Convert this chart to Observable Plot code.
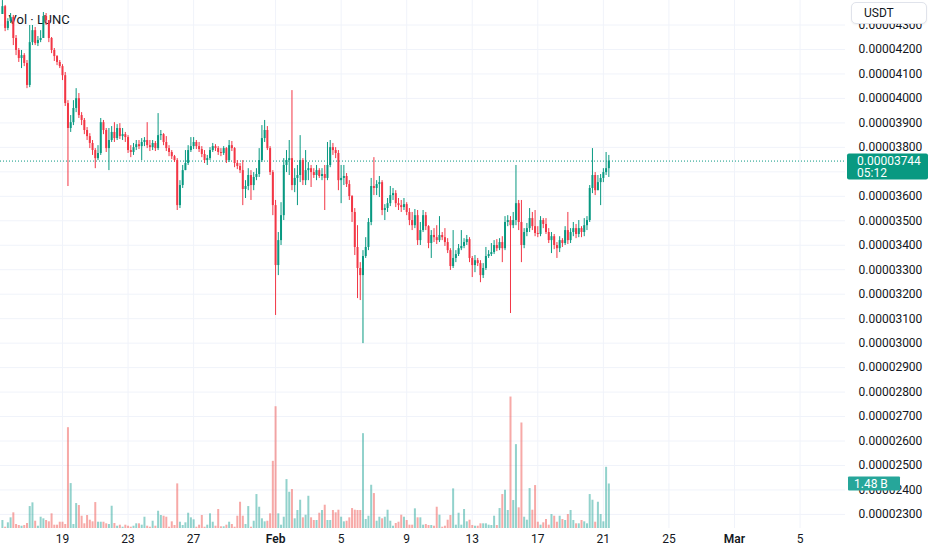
<!DOCTYPE html>
<html><head><meta charset="utf-8">
<script src="https://cdn.jsdelivr.net/npm/d3@7"></script>
<script src="https://cdn.jsdelivr.net/npm/@observablehq/plot@0.6"></script>
<style>
body{margin:0;background:#fff;font-family:Roboto,"Noto Sans",sans-serif;}
#wrap{position:relative;width:932px;height:550px;overflow:hidden;background:#fff;}
#wrap svg{position:absolute;left:0;top:0;}
.btn{position:absolute;left:851px;top:2px;width:76px;height:22px;border:1px solid #e0e3eb;border-radius:5px;background:#fff;font-size:12px;color:#131722;line-height:20px;padding-left:12px;box-sizing:border-box;box-shadow:0 1px 2px rgba(0,0,0,0.06);}
</style></head>
<body><div id="wrap"></div>
<script>
// prices in units of 1e-8 USDT, 4-hour candles starting 2025-01-15 08:00 UTC
const U = 1e-8;
const START = Date.UTC(2025, 0, 15, 8);
const STEP = 4 * 3600 * 1000;
const firstOpen = 4343;
const close = [
4375,4286,4314,4331,4245,4196,4163,4175,4143,4053,
4228,4277,4224,4237,4245,4335,4318,4245,4196,4171,
4147,4130,4093,3979,3877,3901,3959,3999,3930,3910,
3869,3844,3816,3787,3754,3775,3901,3869,3795,3828,
3861,3836,3877,3844,3852,3840,3787,3779,3799,3811,
3803,3820,3828,3807,3799,3816,3795,3848,3852,3820,
3795,3779,3762,3746,3562,3644,3705,3734,3787,3803,
3820,3803,3791,3771,3746,3754,3787,3803,3795,3779,
3775,3795,3746,3807,3795,3734,3722,3705,3628,3640,
3685,3644,3677,3689,3746,3836,3869,3795,3697,3562,
3317,3419,3521,3726,3746,3754,3644,3673,3685,3746,
3664,3705,3713,3697,3685,3705,3681,3689,3673,3726,
3799,3787,3775,3664,3673,3681,3648,3599,3534,3391,
3305,3276,3354,3391,3493,3640,3632,3648,3656,3542,
3550,3570,3603,3611,3570,3562,3554,3566,3534,3501,
3480,3521,3419,3460,3521,3476,3407,3440,3431,3419,
3440,3431,3411,3378,3313,3346,3362,3386,3395,3411,
3423,3346,3317,3337,3325,3276,3305,3354,3362,3370,
3399,3386,3411,3386,3493,3501,3480,3501,3570,3493,
3399,3452,3468,3509,3476,3448,3444,3501,3485,3452,
3419,3435,3399,3386,3419,3407,3460,3419,3452,3468,
3444,3468,3452,3480,3501,3632,3685,3623,3656,3673,
3697,3713,3744];
const high = [
4400,4380,4326,4347,4339,4257,4204,4196,4183,4155,
4298,4298,4290,4253,4277,4351,4347,4318,4249,4204,
4175,4155,4138,4106,3991,3930,3991,4040,4020,3942,
3918,3881,3856,3828,3795,3807,3918,3910,3877,3877,
3885,3901,3893,3897,3877,3861,3848,3807,3816,3828,
3828,3836,3840,3901,3828,3828,3824,3938,3869,3856,
3844,3807,3787,3767,3754,3664,3726,3787,3807,3840,
3840,3828,3820,3803,3787,3767,3799,3816,3811,3803,
3795,3803,3799,3828,3824,3799,3746,3734,3746,3664,
3713,3705,3697,3713,3795,3889,3910,3885,3803,3705,
3583,3452,3574,3754,3787,3828,4032,3713,3726,3848,
3754,3787,3738,3726,3713,3726,3713,3713,3726,3820,
3828,3816,3799,3787,3726,3726,3693,3664,3603,3550,
3480,3329,3378,3431,3509,3673,3758,3664,3681,3664,
3566,3591,3640,3632,3623,3591,3583,3591,3574,3550,
3534,3546,3542,3493,3542,3534,3480,3460,3468,3480,
3517,3452,3468,3427,3386,3460,3378,3403,3460,3427,
3440,3431,3354,3358,3346,3337,3325,3391,3378,3407,
3419,3423,3427,3435,3517,3521,3517,3534,3726,3583,
3583,3468,3489,3550,3534,3542,3476,3517,3509,3509,
3468,3452,3444,3411,3435,3427,3476,3534,3468,3493,
3485,3501,3476,3509,3517,3644,3795,3697,3685,3689,
3713,3779,3767];
const low = [
4343,4273,4277,4306,4216,4175,4147,4122,4130,4040,
4044,4216,4216,4212,4228,4245,4298,4228,4183,4151,
4134,4122,4073,3967,3640,3861,3889,3942,3918,3889,
3852,3828,3795,3767,3713,3746,3767,3852,3779,3705,
3820,3820,3828,3832,3828,3820,3775,3758,3767,3787,
3791,3746,3803,3795,3783,3787,3783,3787,3828,3807,
3783,3762,3750,3738,3542,3550,3632,3705,3726,3779,
3791,3791,3779,3758,3734,3726,3746,3779,3783,3767,
3762,3767,3734,3738,3783,3717,3709,3693,3562,3591,
3623,3583,3623,3664,3677,3738,3820,3787,3685,3521,
3113,3276,3399,3501,3697,3685,3623,3615,3562,3656,
3644,3644,3664,3636,3673,3664,3673,3664,3542,3664,
3717,3767,3754,3623,3570,3644,3636,3583,3493,3358,
3182,3174,2998,3346,3378,3480,3603,3603,3595,3521,
3501,3534,3558,3583,3554,3542,3534,3542,3521,3480,
3460,3468,3399,3399,3452,3460,3386,3346,3411,3403,
3411,3419,3395,3366,3297,3305,3329,3354,3378,3386,
3399,3329,3268,3288,3313,3247,3264,3297,3346,3354,
3362,3374,3378,3329,3378,3476,3121,3468,3480,3460,
3329,3386,3435,3452,3460,3435,3431,3435,3468,3444,
3407,3366,3382,3346,3370,3391,3399,3403,3407,3435,
3427,3431,3431,3435,3460,3493,3611,3603,3640,3562,
3656,3685,3677];
// volume in millions of LUNC
const volume = [
266,43,189,355,521,133,100,76,100,166,
730,853,242,76,375,322,266,222,488,110,
110,209,209,133,3353,1494,133,830,764,408,
156,432,276,222,863,209,209,209,156,133,
740,166,76,110,43,110,76,43,76,156,
156,110,375,76,43,242,76,574,432,408,
375,43,222,100,1484,209,100,189,508,355,
289,43,110,432,43,110,488,209,76,631,
56,56,110,209,133,43,408,873,408,133,
730,43,242,1129,707,322,222,242,488,2234,
4050,488,110,375,1627,1205,1295,322,598,940,
355,442,1072,355,266,266,508,598,774,266,
266,598,521,608,375,222,242,355,664,608,
598,598,3154,299,408,1438,1162,242,375,322,
375,608,242,76,166,209,442,375,266,110,
110,654,355,355,110,133,100,100,76,707,
442,43,76,276,432,1318,110,508,110,631,
222,276,100,76,76,156,156,156,110,100,
408,100,664,1129,1272,598,4372,930,2789,687,
3509,375,276,1328,608,1428,209,110,189,299,
110,465,408,209,408,299,266,465,598,266,
156,156,266,222,156,1129,940,209,873,465,
222,2035,1480];

const gridTicks = [2300,2400,2500,2600,2700,2800,2900,3000,3100,3200,3300,3400,3500,3600,3700,3800,3900,4000,4100,4200,4300];
// 3700 label sits under the last-price tag in the reference
const labelTicks = [2300,2400,2500,2600,2700,2800,2900,3000,3100,3200,3300,3400,3500,3600,3800,3900,4000,4100,4200,4300];
const dayTickDates = ["2025-01-19","2025-01-23","2025-01-27","2025-02-05","2025-02-09","2025-02-13","2025-02-17","2025-02-21","2025-02-25","2025-03-05"];
const dayTickLabels = ["19","23","27","5","9","13","17","21","25","5"];
const monthTickDates = ["2025-02-01","2025-03-01"];
const monthTickLabels = ["Feb","Mar"];
const lastPrice = 3744;
const lastPriceLabel = "0.00003744";
const countdown = "05:12";
const lastVolumeLabel = "1.48 B";
const legendText = "Vol · LUNC";
const currency = "USDT";

const UP = "#089981", DOWN = "#F23645";
const W = 932, H = 550, MR = 87, MB = 22;
const xDomain = [new Date(Date.UTC(2025,0,15,5,13)), new Date(Date.UTC(2025,2,7,18,33))];

const candles = close.map((c, i) => {
  const o = i === 0 ? firstOpen : close[i-1];
  return {date: new Date(START + i*STEP), open: o*U, close: c*U,
    high: Math.max(high[i], o, c)*U, low: Math.min(low[i], o, c)*U,
    volume: volume[i]*1e6, up: c >= o};
});
const dayTicks = dayTickDates.map(s => new Date(s));
const monthTicks = monthTickDates.map(s => new Date(s));
const allTicks = dayTicks.concat(monthTicks);
const labelOf = new Map();
dayTicks.forEach((d,i)=>labelOf.set(+d, dayTickLabels[i]));
monthTicks.forEach((d,i)=>labelOf.set(+d, monthTickLabels[i]));

const font = "Roboto, 'Noto Sans', sans-serif";
const priceChart = Plot.plot({
  width: W, height: H, marginLeft: 0, marginRight: MR, marginTop: 0, marginBottom: MB,
  style: {background: "transparent", fontFamily: font, fontSize: "12px", color: "#131722", overflow: "visible"},
  x: {type: "utc", domain: xDomain, label: null},
  y: {domain: [2242.5*U, 4400.2*U], label: null},
  color: {type: "identity"},
  marks: [
    Plot.gridX(allTicks, {stroke: "#f0f3fa", strokeOpacity: 1}),
    Plot.gridY(gridTicks.map(v => v*U), {stroke: "#f0f3fa", strokeOpacity: 1}),
    Plot.axisX(dayTicks, {tickSize: 0, tickPadding: 6, label: null, tickFormat: d => labelOf.get(+d), fill: "#131722", fontSize: 12}),
    Plot.axisX(monthTicks, {tickSize: 0, tickPadding: 6, label: null, tickFormat: d => labelOf.get(+d), fill: "#131722", fontSize: 12, fontWeight: 600}),
    Plot.axisY(labelTicks.map(v => v*U), {anchor: "right", tickSize: 0, tickPadding: 13, label: null, tickFormat: d => d.toFixed(8), fill: "#131722", fontSize: 12}),
    Plot.text([legendText], {frameAnchor: "top-left", dx: 8, dy: 14, textAnchor: "start", fill: "#131722", fontSize: 13}),
    Plot.ruleY([lastPrice*U], {stroke: UP, strokeDasharray: "1 2", strokeWidth: 1}),
    Plot.ruleX(candles, {x: "date", y1: "low", y2: "high", stroke: d => d.up ? UP : DOWN, strokeWidth: 1}),
    Plot.ruleX(candles, {x: "date", y1: "open", y2: "close", stroke: d => d.up ? UP : DOWN, strokeWidth: 2})
  ]
});

const volChart = Plot.plot({
  width: W, height: H, marginLeft: 0, marginRight: MR, marginTop: 0, marginBottom: MB,
  style: {background: "transparent", overflow: "visible"},
  x: {type: "utc", domain: xDomain, axis: null},
  y: {domain: [0, 17560e6], axis: null},
  color: {type: "identity"},
  marks: [
    Plot.ruleX(candles, {x: "date", y: "volume", stroke: d => d.up ? "rgba(38,166,154,0.5)" : "rgba(239,83,80,0.5)", strokeWidth: 2})
  ]
});

const wrap = document.getElementById("wrap");
wrap.appendChild(priceChart);
wrap.appendChild(volChart);

// last price label
const yP = priceChart.scale("y").apply(lastPrice*U);
const gp = d3.select(priceChart).append("g").attr("font-family", font).attr("font-size", 12).attr("text-anchor", "start");
gp.append("rect").attr("x", W-MR+2).attr("y", yP-7).attr("width", 81).attr("height", 26).attr("rx", 2).attr("fill", UP);
gp.append("text").attr("x", W-MR+12).attr("y", yP).attr("dy", "0.35em").attr("fill", "#fff").text(lastPriceLabel);
gp.append("text").attr("x", W-MR+12).attr("y", yP+12).attr("dy", "0.35em").attr("fill", "#fff").text(countdown);

// last volume label
const yV = volChart.scale("y").apply(volume[volume.length-1]*1e6);
const gv = d3.select(volChart).append("g").attr("font-family", font).attr("font-size", 12).attr("text-anchor", "start");
gv.append("rect").attr("x", W-MR+3).attr("y", yV-7).attr("width", 52).attr("height", 14).attr("rx", 1).attr("fill", "#26a69a");
gv.append("text").attr("x", W-MR+9).attr("y", yV).attr("dy", "0.35em").attr("fill", "#fff").text(lastVolumeLabel);

const btn = document.createElement("div");
btn.className = "btn";
btn.textContent = currency;
wrap.appendChild(btn);
</script>
</body></html>
